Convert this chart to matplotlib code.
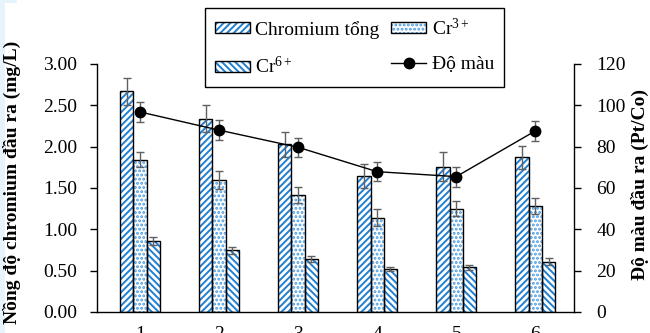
import matplotlib
matplotlib.use('Agg')
import matplotlib.pyplot as plt
import matplotlib.patches as mpatches
import numpy as np

plt.rcParams.update({
    'font.family': ['Liberation Serif', 'DejaVu Serif'],
    'mathtext.fontset': 'custom',
    'mathtext.rm': 'Liberation Serif',
    'mathtext.it': 'Liberation Serif:italic',
    'mathtext.bf': 'Liberation Serif:bold',
    'font.size': 14,
    'hatch.linewidth': 1.4,
})

# Dữ liệu
nhom = [1, 2, 3, 4, 5, 6]
cr_tong = [2.67, 2.34, 2.03, 1.645, 1.76, 1.87]
cr_tong_err = [0.16, 0.16, 0.15, 0.145, 0.17, 0.14]
cr3 = [1.84, 1.60, 1.415, 1.14, 1.25, 1.28]
cr3_err = [0.09, 0.11, 0.10, 0.10, 0.09, 0.10]
cr6 = [0.86, 0.745, 0.64, 0.52, 0.54, 0.61]
cr6_err = [0.05, 0.04, 0.04, 0.03, 0.03, 0.04]
do_mau = [96.8, 88.0, 79.7, 67.9, 65.5, 87.6]
do_mau_err = [4.7, 4.7, 4.7, 4.5, 4.8, 4.7]

XANH = '#1f7fd0'
XANH_NHAT = '#4a9be0'
XAM = '#606060'

fig = plt.figure(figsize=(6.5, 3.33), dpi=100)
# dải xanh nhạt ở mép trái và góc trên
fig.patches.append(mpatches.Rectangle((0, 0), 5 / 650, 1, transform=fig.transFigure,
                                      facecolor='#e6f3fa', edgecolor='none'))
fig.patches.append(mpatches.Rectangle((0, 1 - 3 / 333), 17 / 650, 3 / 333,
                                      transform=fig.transFigure,
                                      facecolor='#e6f3fa', edgecolor='none'))
ax = fig.add_axes([97 / 650, 1 - 312 / 333, 477 / 650, 248 / 333])

x = np.array(nhom, dtype=float)
w = 0.168
series = [
    (cr_tong, cr_tong_err, '/////', XANH, -w),
    (cr3, cr3_err, '....', XANH_NHAT, 0.0),
    (cr6, cr6_err, '\\\\\\\\\\', XANH, w),
]
handles = []
for vals, errs, hatch, col, off in series:
    ax.bar(x + off, vals, w, facecolor='white', edgecolor=col, hatch=hatch,
           linewidth=0, zorder=2)
    ax.bar(x + off, vals, w, facecolor='none', edgecolor='black',
           linewidth=1.0, zorder=3)
    ax.errorbar(x + off, vals, yerr=errs, fmt='none', ecolor=XAM,
                elinewidth=1.0, capsize=3, capthick=1.0, zorder=4)
    h1 = mpatches.Patch(facecolor='white', edgecolor=col, hatch=hatch, linewidth=0)
    h2 = mpatches.Patch(facecolor='none', edgecolor='black', linewidth=1.0)
    handles.append((h1, h2))

ax.set_xlim(0.456, 6.49)
ax.set_ylim(0, 3.0)
ax.set_yticks(np.arange(0, 3.01, 0.5))
ax.set_yticklabels([f'{v:.2f}' for v in np.arange(0, 3.01, 0.5)])
ax.set_xticks(x)
ax.set_xticklabels([str(n) for n in nhom])
ax.tick_params(axis='x', length=0, pad=10)
ax.tick_params(axis='y', direction='out', length=5, pad=9, width=1)
ax.spines['top'].set_visible(False)
ax.spines['right'].set_visible(False)
for s in ['left', 'bottom']:
    ax.spines[s].set_linewidth(1.0)

ax2 = ax.twinx()
ax2.errorbar(x, do_mau, yerr=do_mau_err, fmt='none', ecolor=XAM,
             elinewidth=1.0, capsize=3, capthick=1.0, zorder=4)
ln, = ax2.plot(x, do_mau, color='black', linewidth=1.0, marker='o',
               markersize=7.5, markerfacecolor='black', zorder=5)
ax2.set_ylim(0, 120)
ax2.set_yticks(np.arange(0, 121, 20))
ax2.tick_params(axis='y', direction='out', length=5, pad=11, width=1)
for s in ['top', 'left', 'bottom']:
    ax2.spines[s].set_visible(False)
ax2.spines['right'].set_linewidth(1.0)

fig.text(12 / 650, 1 - 182 / 333, 'Nồng độ chromium đầu ra (mg/L)', rotation=90,
         ha='center', va='center', fontweight='bold', fontsize=14)
fig.text(640 / 650, 1 - 184 / 333, 'Độ màu đầu ra (Pt/Co)', rotation=90,
         ha='center', va='center', fontweight='bold', fontsize=14)

labels = ['Chromium tổng', 'Cr$^{6+}$', 'Cr$^{3+}$', 'Độ màu']
leg_handles = [handles[0], handles[2], handles[1], ln]
leg = ax2.legend(leg_handles, labels, ncol=2, loc='upper left',
                 bbox_to_anchor=(0.226, 1.227), borderaxespad=0,
                 frameon=True, fancybox=False,
                 edgecolor='black', framealpha=1, handlelength=1.8,
                 handleheight=0.5, handletextpad=0.3, columnspacing=0.6,
                 labelspacing=0.9, borderpad=0.5, fontsize=14)
leg.get_frame().set_linewidth(1.0)

fig.savefig('out.png', dpi=100)
